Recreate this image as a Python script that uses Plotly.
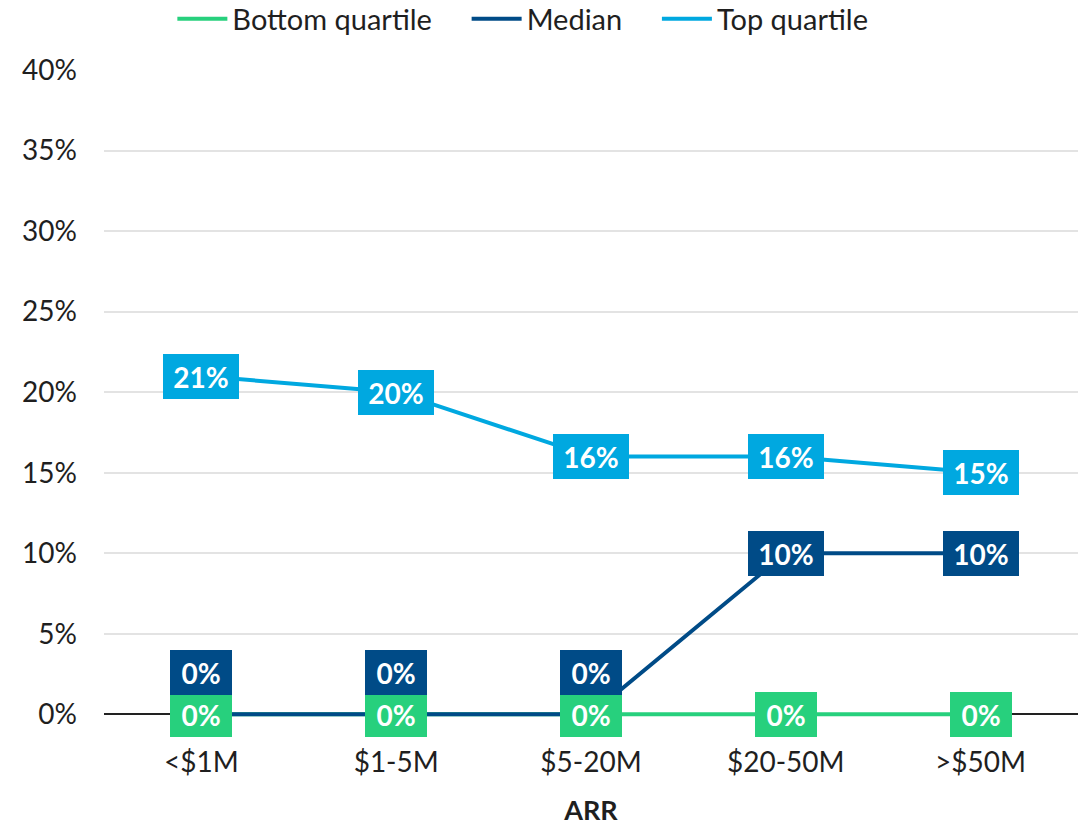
import plotly.graph_objects as go

# ARR bands and the three quartile series (percent)
categories = ["<$1M", "$1-5M", "$5-20M", "$20-50M", ">$50M"]
bottom_quartile = [0, 0, 0, 0, 0]
median = [0, 0, 0, 10, 10]
top_quartile = [21, 20, 16, 16, 15]

series_names = ["Bottom quartile", "Median", "Top quartile"]
y_ticks = [0, 5, 10, 15, 20, 25, 30, 35, 40]

GREEN = "#27D07D"
NAVY = "#004B87"
BLUE = "#00A8E0"
FONT = "Lato"
TEXT = "#1f1f1f"
PAD = "\u00a0\u00a0\u00a0\u00a0"  # extra room between legend entries

fig = go.Figure()
series = [
    (series_names[0], bottom_quartile, GREEN),
    (series_names[1], median, NAVY),
    (series_names[2], top_quartile, BLUE),
]
for name, vals, color in series:
    fig.add_trace(go.Scatter(
        x=categories, y=vals, name=name + PAD, mode="lines",
        line=dict(color=color, width=4),
        cliponaxis=False,
    ))

# value boxes on each point; median zeros sit above the bottom-quartile zeros
annotations = []
for name, vals, color in series:
    for cat, v in zip(categories, vals):
        txt = f"{v}%"
        shift = 42 if (name == "Median" and v == 0) else 0
        annotations.append(dict(
            x=cat, y=v, xref="x", yref="y",
            text=f"<b>{txt}</b>", showarrow=False,
            font=dict(family=FONT, size=28, color="white"),
            bgcolor=color, borderpad=0, borderwidth=0,
            width=62 if len(txt) == 2 else 76, height=45,
            align="center", valign="middle",
            yshift=shift,
        ))

fig.update_layout(
    width=1091, height=826,
    margin=dict(l=104, r=13, t=70, b=102, autoexpand=False),
    paper_bgcolor="white", plot_bgcolor="white",
    font=dict(family=FONT, size=28, color=TEXT),
    showlegend=True,
    legend=dict(
        orientation="h", x=0.493, xanchor="center", xref="container",
        y=1.117, yanchor="top", yref="paper",
        font=dict(family=FONT, size=29, color=TEXT),
        bgcolor="rgba(0,0,0,0)", itemwidth=50, tracegroupgap=0,
    ),
    annotations=annotations,
    xaxis=dict(
        type="category", categoryorder="array", categoryarray=categories,
        range=[-0.5, 4.5], showgrid=False, showline=False, ticks="",
        automargin=False,
        tickfont=dict(family=FONT, size=28, color=TEXT),
        ticklabelstandoff=19,
        title=dict(text="<b>ARR</b>", font=dict(family=FONT, size=27, color=TEXT),
                   standoff=24),
    ),
    yaxis=dict(
        range=[-0.6, 40], tickvals=y_ticks, ticktext=[f"{t}%" for t in y_ticks],
        showgrid=True, gridcolor="#E3E3E3", gridwidth=2,
        zeroline=True, zerolinecolor="#222222", zerolinewidth=2,
        showline=False, ticks="", automargin=False,
        tickfont=dict(family=FONT, size=28, color=TEXT),
        ticklabelstandoff=26,
    ),
)

fig.write_html("out.html")
